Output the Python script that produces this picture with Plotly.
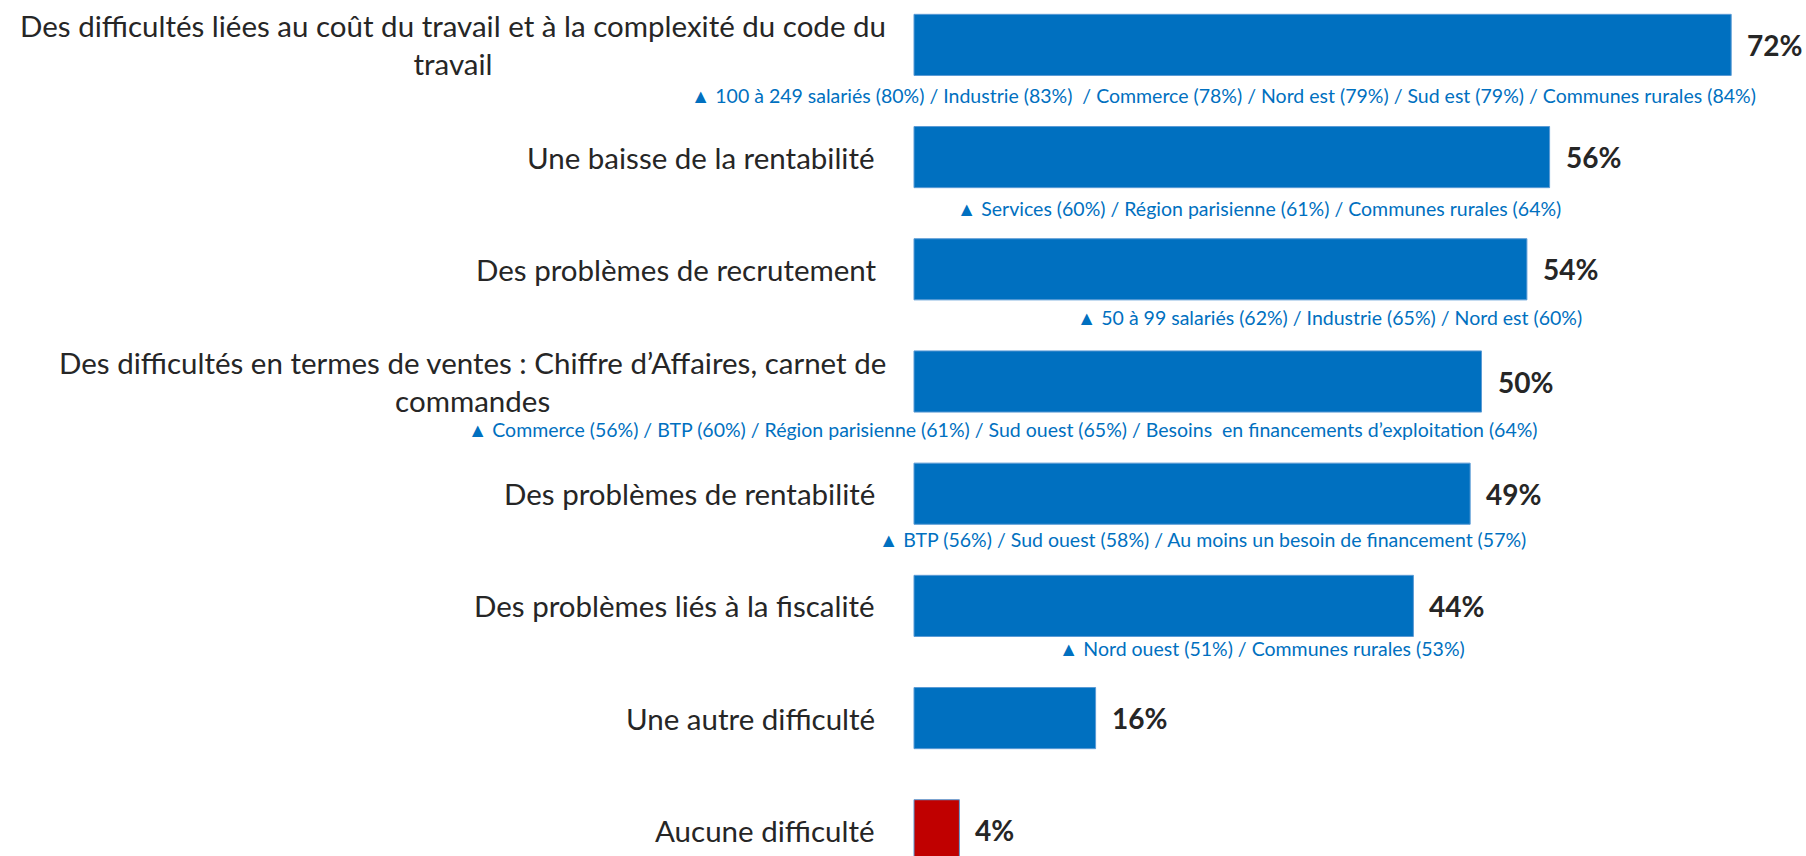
import plotly.graph_objects as go

categories = [
    "Des difficultés liées au coût du travail et à la complexité du code du<br>travail",
    "Une baisse de la rentabilité",
    "Des problèmes de recrutement",
    "Des difficultés en termes de ventes : Chiffre d’Affaires, carnet de<br>commandes",
    "Des problèmes de rentabilité",
    "Des problèmes liés à la fiscalité",
    "Une autre difficulté",
    "Aucune difficulté",
]
values = [72, 56, 54, 50, 49, 44, 16, 4]
details = [
    "100 à 249 salariés (80%) / Industrie (83%)  / Commerce (78%) / Nord est (79%) / Sud est (79%) / Communes rurales (84%)",
    "Services (60%) / Région parisienne (61%) / Communes rurales (64%)",
    "50 à 99 salariés (62%) / Industrie (65%) / Nord est (60%)",
    "Commerce (56%) / BTP (60%) / Région parisienne (61%) / Sud ouest (65%) / Besoins  en financements d’exploitation (64%)",
    "BTP (56%) / Sud ouest (58%) / Au moins un besoin de financement (57%)",
    "Nord ouest (51%) / Communes rurales (53%)",
    "",
    "",
]
bar_colors = ["#0070C0"] * 7 + ["#C00000"]

W, H = 1806, 856
FONT = "Lato"
X0 = 914.0          # px of 0%
PX_PER = 11.35      # px per percentage point
Y0 = 44.9           # px of first bar center
PITCH = 112.2       # px between bars

xr = [-X0 / PX_PER, (W - X0) / PX_PER]
yr = [7 + (H - (Y0 + 7 * PITCH)) / PITCH, -Y0 / PITCH]

pos = list(range(len(categories)))

fig = go.Figure()
fig.add_trace(go.Bar(
    x=values, y=pos, orientation="h",
    marker=dict(color=bar_colors, line=dict(color="#5B9BD5", width=1)),
    width=0.545, hoverinfo="skip",
))

# category labels
label_right = [888, 877, 879, 888, 877, 877, 877, 877]
for i, c in enumerate(categories):
    fig.add_annotation(
        x=label_right[i] / W, xref="paper", y=i, yref="y",
        text=c, showarrow=False, xanchor="right", yanchor="middle",
        align="center", font=dict(family=FONT, size=29.5, color="#262626"),
    )

# value labels
for i, v in enumerate(values):
    fig.add_annotation(
        x=v, y=i, xref="x", yref="y", text=f"<b>{v}%</b>",
        showarrow=False, xanchor="left", yanchor="middle", xshift=14,
        font=dict(family=FONT, size=28, color="#262626"),
    )

# detail lines (centers in px)
detail_cx = [1223, 1259, 1329, 1003, 1202, 1262]
detail_cy = [95.6, 208.5, 317.9, 429.6, 539.0, 648.5]
for i, d in enumerate(details):
    if not d:
        continue
    fig.add_annotation(
        x=detail_cx[i] / W, xref="paper",
        y=(detail_cy[i] - Y0) / PITCH, yref="y",
        text="▲ " + d, showarrow=False, xanchor="center", yanchor="middle",
        font=dict(family=FONT, size=19.5, color="#0070C0"),
    )

fig.update_layout(
    width=W, height=H,
    margin=dict(l=0, r=0, t=0, b=0),
    paper_bgcolor="white", plot_bgcolor="white",
    showlegend=False,
    xaxis=dict(range=xr, visible=False, fixedrange=True),
    yaxis=dict(range=yr, visible=False, fixedrange=True),
)

fig.write_html(
    "out.html",
    config={"displayModeBar": False},
    post_script="document.body.style.margin='0';document.body.style.overflow='hidden';",
)
